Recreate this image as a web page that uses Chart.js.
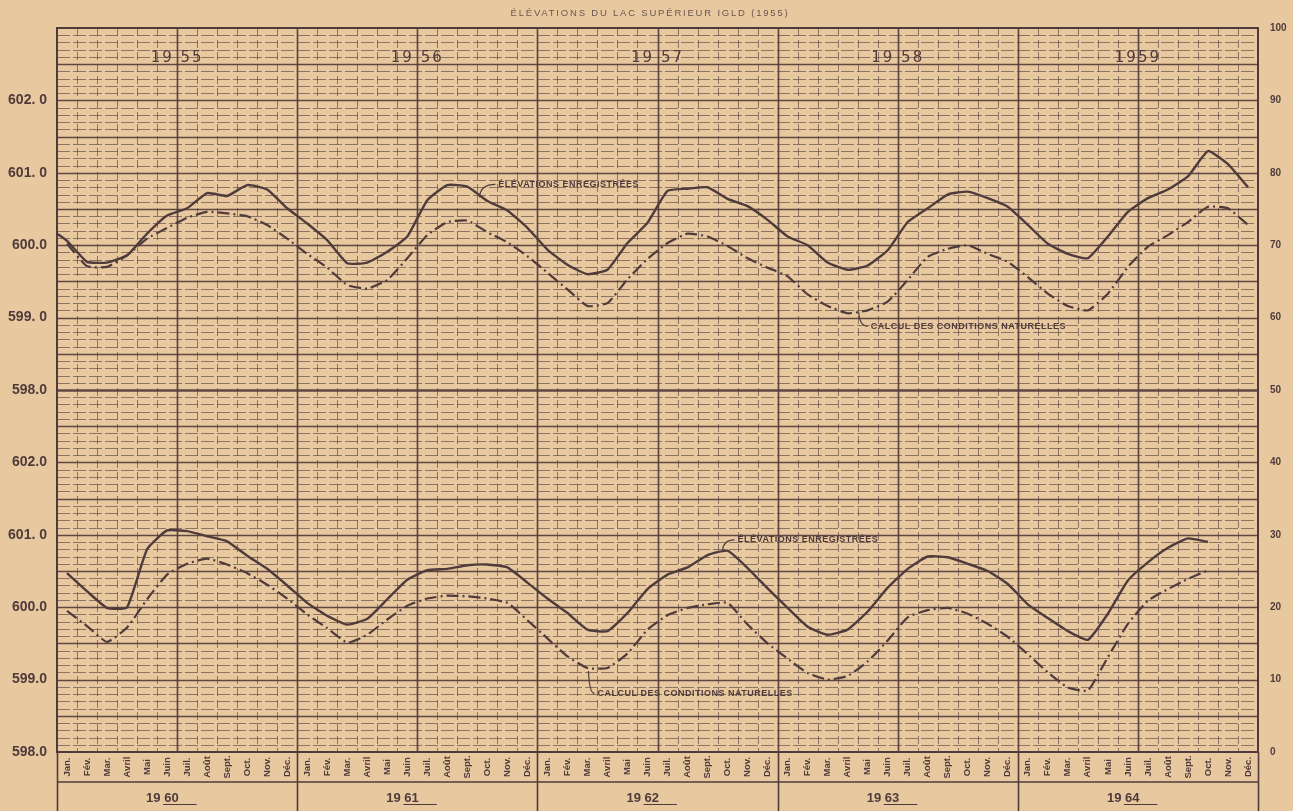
<!DOCTYPE html>
<html>
<head>
<meta charset="utf-8">
<script src="https://cdn.jsdelivr.net/npm/chart.js@4.4.0/dist/chart.umd.min.js"></script>
<style>
  html, body { margin: 0; padding: 0; background: #e8c89f; }
  #cadre { width: 1293px; height: 811px; }
</style>
</head>
<body>
<div id="cadre"><canvas id="lac"></canvas></div>
<script>
const titre = 'ÉLÉVATIONS DU LAC SUPÉRIEUR IGLD (1955)';
const mois = ['Jan.', 'Fév.', 'Mar.', 'Avril', 'Mai', 'Juin', 'Juil.', 'Août', 'Sept.', 'Oct.', 'Nov.', 'Déc.'];
const anneesHaut = ['19 55', '19 56', '19 57', '19 58', '1959'];
const anneesBas = ['19 60', '19 61', '19 62', '19 63', '19 64'];
// étiquettes de gauche, de 598 à 603
const etiquettesHaut = ['598.0', '599. 0', '600.0', '601. 0', '602. 0', ''];
const etiquettesBas = ['598.0', '599.0', '600.0', '601. 0', '602.0', ''];

// niveau au 1er janvier 1955
const hautDebut = 600.16;
// 1955 - 1959 (pieds, milieu de mois)
const hautEnregistrees = [
  600.06, 599.77, 599.76, 599.86, 600.16, 600.41, 600.51, 600.72, 600.68, 600.83, 600.77, 600.51,
  600.30, 600.07, 599.75, 599.76, 599.91, 600.12, 600.62, 600.83, 600.81, 600.61, 600.48, 600.24,
  599.94, 599.73, 599.60, 599.66, 600.03, 600.31, 600.75, 600.78, 600.80, 600.64, 600.54, 600.35,
  600.12, 600.00, 599.76, 599.66, 599.72, 599.93, 600.32, 600.51, 600.70, 600.74, 600.65, 600.53,
  600.28, 600.02, 599.88, 599.82, 600.12, 600.46, 600.65, 600.77, 600.95, 601.30, 601.12, 600.80
];
const hautNaturelles = [
  600.02, 599.71, 599.70, 599.86, 600.09, 600.24, 600.38, 600.46, 600.44, 600.40, 600.28, 600.09,
  599.88, 599.69, 599.45, 599.40, 599.52, 599.82, 600.14, 600.32, 600.34, 600.18, 600.04, 599.85,
  599.62, 599.39, 599.16, 599.20, 599.53, 599.81, 600.03, 600.16, 600.12, 599.99, 599.82, 599.69,
  599.57, 599.32, 599.16, 599.06, 599.10, 599.22, 599.52, 599.84, 599.95, 600.00, 599.88, 599.77,
  599.56, 599.33, 599.16, 599.10, 599.33, 599.70, 599.98, 600.14, 600.32, 600.53, 600.51, 600.28
];
// 1960 - 1964
const basEnregistrees = [
  600.47, 600.22, 599.99, 600.00, 600.80, 601.06, 601.05, 600.98, 600.91, 600.71, 600.53, 600.30,
  600.06, 599.88, 599.76, 599.84, 600.11, 600.38, 600.51, 600.53, 600.58, 600.59, 600.55, 600.34,
  600.12, 599.92, 599.69, 599.67, 599.92, 600.25, 600.45, 600.55, 600.72, 600.78, 600.54, 600.26,
  599.99, 599.73, 599.62, 599.69, 599.94, 600.27, 600.53, 600.70, 600.69, 600.60, 600.50, 600.32,
  600.04, 599.85, 599.67, 599.55, 599.91, 600.37, 600.62, 600.82, 600.95, 600.90, null, null
];
const basNaturelles = [
  599.95, 599.74, 599.52, 599.72, 600.11, 600.45, 600.60, 600.67, 600.59, 600.47, 600.31, 600.12,
  599.90, 599.71, 599.51, 599.62, 599.83, 600.02, 600.12, 600.16, 600.15, 600.12, 600.06, 599.82,
  599.57, 599.32, 599.16, 599.16, 599.36, 599.69, 599.89, 599.99, 600.04, 600.06, 599.76, 599.50,
  599.29, 599.09, 599.00, 599.05, 599.25, 599.54, 599.86, 599.96, 599.99, 599.91, 599.77, 599.59,
  599.35, 599.10, 598.89, 598.85, 599.31, 599.77, 600.09, 600.25, 600.39, 600.51, null, null
];

const encre = '#4f3b3b';
const papier = '#e8c89f';
const tiretPoint = [12, 4, 2, 4];

function points(valeurs){
  return valeurs.map((v, i) => ({x: i + 0.5, y: v}));
}

const papierPlugin = {
  id: 'papier',
  beforeDraw(chart){
    const ctx = chart.ctx;
    ctx.save();
    ctx.fillStyle = papier;
    ctx.fillRect(0, 0, chart.width, chart.height);
    ctx.restore();
  },
  beforeDatasetsDraw(chart){
    const ctx = chart.ctx;
    const a = chart.chartArea;
    const x = chart.scales.x;
    const y = chart.scales.yDroite;
    ctx.save();
    // lignes horizontales, chaque 0.1 pied
    for(let v = 1; v < 100; v++){
      const py = Math.round(y.getPixelForValue(v)) + 0.5;
      ctx.beginPath();
      if(v % 5 === 0){
        ctx.setLineDash([]);
        ctx.lineWidth = v === 50 ? 2.6 : 1.7;
        ctx.strokeStyle = 'rgba(80,58,56,0.9)';
      }else{
        ctx.setLineDash([13, 3]);
        ctx.lineWidth = 1;
        ctx.strokeStyle = 'rgba(80,58,56,0.6)';
      }
      ctx.moveTo(a.left, py);
      ctx.lineTo(a.right, py);
      ctx.stroke();
    }
    // lignes verticales, chaque mois
    for(let m = 1; m < 60; m++){
      const px = Math.round(x.getPixelForValue(m)) + 0.5;
      ctx.beginPath();
      if(m % 6 === 0){
        ctx.setLineDash([]);
        ctx.lineWidth = 1.7;
        ctx.strokeStyle = 'rgba(80,58,56,0.9)';
      }else{
        ctx.setLineDash([8, 4]);
        ctx.lineWidth = 1;
        ctx.strokeStyle = 'rgba(80,58,56,0.6)';
      }
      ctx.moveTo(px, a.top);
      ctx.lineTo(px, a.bottom);
      ctx.stroke();
    }
    ctx.setLineDash([]);
    ctx.lineWidth = 2;
    ctx.strokeStyle = encre;
    ctx.strokeRect(a.left, a.top, a.right - a.left, a.bottom - a.top);
    ctx.restore();
  },
  afterDraw(chart){
    const ctx = chart.ctx;
    const a = chart.chartArea;
    const x = chart.scales.x;
    const yH = chart.scales.yHaut;
    const yB = chart.scales.yBas;
    ctx.save();
    ctx.fillStyle = encre;
    ctx.strokeStyle = encre;

    // titre
    ctx.font = '9.5px "Liberation Sans", Arial, sans-serif';
    ctx.letterSpacing = '1.8px';
    ctx.textAlign = 'center';
    ctx.textBaseline = 'middle';
    ctx.fillStyle = '#6a5652';
    ctx.fillText(titre, 650, 13);
    ctx.fillStyle = encre;

    // années du haut
    ctx.font = '500 15px "DejaVu Sans", sans-serif';
    ctx.letterSpacing = '2px';
    anneesHaut.forEach((t, i) => {
      ctx.fillText(t, x.getPixelForValue(i * 12 + 6), 58);
    });

    // bande du bas
    const yMois = a.bottom + 15;
    const yLigne = a.bottom + 30;
    ctx.letterSpacing = '0px';
    ctx.lineWidth = 1.6;
    ctx.beginPath();
    ctx.moveTo(a.left, yLigne);
    ctx.lineTo(a.right, yLigne);
    for(let k = 0; k <= 5; k++){
      const px = Math.round(x.getPixelForValue(k * 12)) + 0.5;
      ctx.moveTo(px, a.bottom);
      ctx.lineTo(px, chart.height);
    }
    ctx.stroke();

    ctx.font = 'bold 9.5px "Liberation Sans", Arial, sans-serif';
    for(let m = 0; m < 60; m++){
      ctx.save();
      ctx.translate(x.getPixelForValue(m + 0.5), yMois);
      ctx.rotate(-Math.PI / 2);
      ctx.fillText(mois[m % 12], 0, 0);
      ctx.restore();
    }

    ctx.font = 'bold 13px "Liberation Sans", Arial, sans-serif';
    ctx.textAlign = 'left';
    ctx.textBaseline = 'alphabetic';
    ctx.lineWidth = 1.2;
    anneesBas.forEach((t, i) => {
      const gauche = x.getPixelForValue(i * 12 + 6) - 31;
      ctx.fillText(t, gauche, 802);
      const debut = gauche + ctx.measureText('19 ').width - 1;
      const fin = gauche + ctx.measureText(t).width + 18;
      ctx.beginPath();
      ctx.moveTo(debut, 804.5);
      ctx.lineTo(fin, 804.5);
      ctx.stroke();
    });

    // annotations
    ctx.font = 'bold 9px "Liberation Sans", Arial, sans-serif';
    ctx.letterSpacing = '0.5px';
    ctx.textBaseline = 'middle';
    ctx.lineWidth = 1.2;
    const notes = [
      {t: 'ÉLÉVATIONS ENREGISTRÉES', sc: yH, x: 22.05, y: 600.84, lx: 21.1, ly: 600.66},
      {t: 'CALCUL DES CONDITIONS NATURELLES', sc: yH, x: 40.65, y: 598.88, lx: 40.05, ly: 599.08},
      {t: 'ÉLÉVATIONS ENREGISTRÉES', sc: yB, x: 34.0, y: 600.93, lx: 33.25, ly: 600.79},
      {t: 'CALCUL DES CONDITIONS NATURELLES', sc: yB, x: 27.0, y: 598.81, lx: 26.55, ly: 599.12}
    ];
    notes.forEach(n => {
      const tx = x.getPixelForValue(n.x);
      const ty = n.sc.getPixelForValue(n.y);
      const lx = x.getPixelForValue(n.lx);
      const ly = n.sc.getPixelForValue(n.ly);
      ctx.fillText(n.t, tx, ty);
      ctx.beginPath();
      ctx.moveTo(tx - 3, ty);
      ctx.quadraticCurveTo(lx + 1, ty, lx, ly);
      ctx.stroke();
    });
    ctx.restore();
  }
};

const base = {
  pointRadius: 0,
  borderColor: encre,
  fill: false,
  tension: 0.15
};

const policeGauche = {family: '"Liberation Sans", Arial, sans-serif', size: 14, weight: 'bold'};

const chart = new Chart(document.getElementById('lac'), {
  type: 'line',
  data: {
    datasets: [
      {...base, label: 'Élévations enregistrées 1955-1959', data: [{x: 0, y: hautDebut}, ...points(hautEnregistrees)], yAxisID: 'yHaut', borderWidth: 2.4},
      {...base, label: 'Calcul des conditions naturelles 1955-1959', data: points(hautNaturelles), yAxisID: 'yHaut', borderWidth: 2.2, borderDash: tiretPoint},
      {...base, label: 'Élévations enregistrées 1960-1964', data: points(basEnregistrees), yAxisID: 'yBas', borderWidth: 2.4},
      {...base, label: 'Calcul des conditions naturelles 1960-1964', data: points(basNaturelles), yAxisID: 'yBas', borderWidth: 2.2, borderDash: tiretPoint}
    ]
  },
  options: {
    responsive: true,
    maintainAspectRatio: false,
    animation: false,
    layout: {padding: {top: 28, bottom: 59, left: 0, right: 0}},
    plugins: {legend: {display: false}, tooltip: {enabled: false}, title: {display: false}},
    scales: {
      x: {type: 'linear', min: 0, max: 60, display: false},
      // la pile se remplit de bas en haut : yBas d'abord
      yBas: {
        type: 'linear', position: 'left', stack: 'elev', stackWeight: 1,
        min: 598, max: 603,
        grid: {display: false}, border: {display: false},
        ticks: {
          stepSize: 1, padding: 2, color: encre, font: policeGauche,
          callback: v => etiquettesBas[Math.round(v - 598)]
        },
        afterFit: s => { s.width = 57; }
      },
      yHaut: {
        type: 'linear', position: 'left', stack: 'elev', stackWeight: 1,
        min: 598, max: 603,
        grid: {display: false}, border: {display: false},
        ticks: {
          stepSize: 1, padding: 2, color: encre, font: policeGauche,
          callback: v => etiquettesHaut[Math.round(v - 598)]
        },
        afterFit: s => { s.width = 57; }
      },
      yDroite: {
        type: 'linear', position: 'right', min: 0, max: 100,
        grid: {display: false}, border: {display: false},
        ticks: {
          stepSize: 10, padding: 4, color: encre,
          font: {family: '"Liberation Sans", Arial, sans-serif', size: 10, weight: 'bold'}
        },
        afterFit: s => { s.width = 35; }
      }
    }
  },
  plugins: [papierPlugin]
});
</script>
</body>
</html>
